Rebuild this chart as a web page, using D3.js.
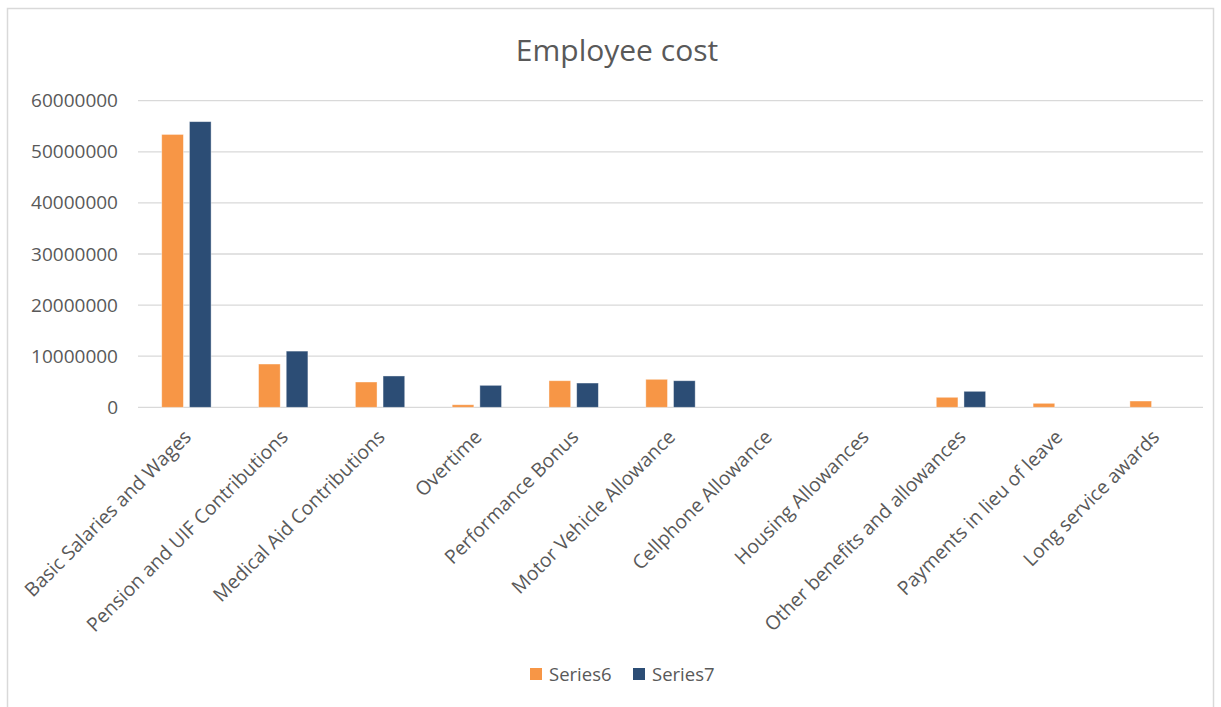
<!DOCTYPE html>
<html>
<head>
<meta charset="utf-8">
<script src="https://cdn.jsdelivr.net/npm/d3@7"></script>
<style>
  html, body { margin: 0; padding: 0; background: #fff; }
  svg { display: block; font-family: "Open Sans", "Noto Sans", sans-serif; }
</style>
</head>
<body>
<svg id="chart" width="1221" height="707"></svg>
<script>
// Employee cost by category, two series
const categories = [
  "Basic Salaries and Wages",
  "Pension and UIF Contributions",
  "Medical Aid Contributions",
  "Overtime",
  "Performance Bonus",
  "Motor Vehicle Allowance",
  "Cellphone Allowance",
  "Housing Allowances",
  "Other benefits and allowances",
  "Payments in lieu of leave",
  "Long service awards"
];
const seriesNames = ["Series6", "Series7"];
const series6 = [53400000, 8470000, 4950000, 500000, 5200000, 5480000, 0, 0, 1960000, 780000, 1230000];
const series7 = [55900000, 11000000, 6130000, 4300000, 4750000, 5200000, 0, 0, 3130000, 0, 0];
const yTicks = [0, 10000000, 20000000, 30000000, 40000000, 50000000, 60000000];
const colors = ["#F79646", "#2C4D75"];

const svg = d3.select("#chart");
const textColor = "#595959";

// chart frame
svg.append("rect")
  .attr("x", 7.5).attr("y", 8.5)
  .attr("width", 1206).attr("height", 706)
  .attr("fill", "#fff").attr("stroke", "#D9D9D9").attr("stroke-width", 1.5);

const plot = { left: 138, right: 1203, top: 100.7, bottom: 407.3 };

const x0 = d3.scaleBand()
  .domain(categories)
  .range([plot.left, plot.right])
  .paddingInner(0).paddingOuter(0);

const groupW = x0.bandwidth() * 0.51;
const x1 = d3.scaleBand()
  .domain(seriesNames)
  .range([(x0.bandwidth() - groupW) / 2, (x0.bandwidth() + groupW) / 2])
  .paddingInner(0.217).paddingOuter(0);

const y = d3.scaleLinear()
  .domain([0, 60000000])
  .range([plot.bottom, plot.top]);

// gridlines
svg.append("g")
  .selectAll("line")
  .data(yTicks)
  .join("line")
  .attr("x1", plot.left).attr("x2", plot.right)
  .attr("y1", d => y(d)).attr("y2", d => y(d))
  .attr("stroke", "#D9D9D9").attr("stroke-width", 1.3);

// y axis labels
const yAxis = d3.axisLeft(y).tickValues(yTicks).tickFormat(d3.format("d")).tickSize(0).tickPadding(0);
const gy = svg.append("g").attr("transform", `translate(${plot.left - 20},0)`).call(yAxis);
gy.select(".domain").remove();
gy.selectAll("text")
  .attr("fill", textColor)
  .style("font-size", "19px")
  .style("font-family", "'Open Sans', 'Noto Sans', sans-serif");

// bars
const rows = categories.map((c, i) => ({ cat: c, vals: [series6[i], series7[i]] }));
const groups = svg.append("g")
  .selectAll("g")
  .data(rows)
  .join("g")
  .attr("transform", d => `translate(${x0(d.cat)},0)`);

groups.selectAll("rect")
  .data(d => d.vals.map((v, j) => ({ name: seriesNames[j], v, j })).filter(e => e.v > 0))
  .join("rect")
  .attr("x", e => x1(e.name))
  .attr("width", x1.bandwidth())
  .attr("y", e => y(e.v))
  .attr("height", e => y(0) - y(e.v))
  .attr("fill", e => colors[e.j])
  .attr("stroke", "#ffffff").attr("stroke-opacity", 0.5).attr("stroke-width", 0.8);

// category labels, rotated
const xAxis = d3.axisBottom(x0).tickSize(0).tickPadding(0);
const gx = svg.append("g").attr("transform", `translate(0,${plot.bottom})`).call(xAxis);
gx.select(".domain").remove();
gx.selectAll("text")
  .attr("fill", textColor)
  .style("font-size", "19.4px")
  .style("font-family", "'Open Sans', 'Noto Sans', sans-serif")
  .attr("text-anchor", "end")
  .attr("dy", null)
  .attr("transform", "translate(6,31) rotate(-45)");

// title
svg.append("text")
  .attr("x", 617).attr("y", 61)
  .attr("text-anchor", "middle")
  .attr("fill", textColor)
  .style("font-size", "30px")
  .text("Employee cost");

// legend
const legend = svg.append("g");
const legendX = [530, 633];
seriesNames.forEach((name, j) => {
  legend.append("rect")
    .attr("x", legendX[j]).attr("y", 668)
    .attr("width", 12).attr("height", 12)
    .attr("fill", colors[j]);
  legend.append("text")
    .attr("x", legendX[j] + 19).attr("y", 681)
    .attr("fill", textColor)
    .style("font-size", "18.5px")
    .text(name);
});
</script>
</body>
</html>
